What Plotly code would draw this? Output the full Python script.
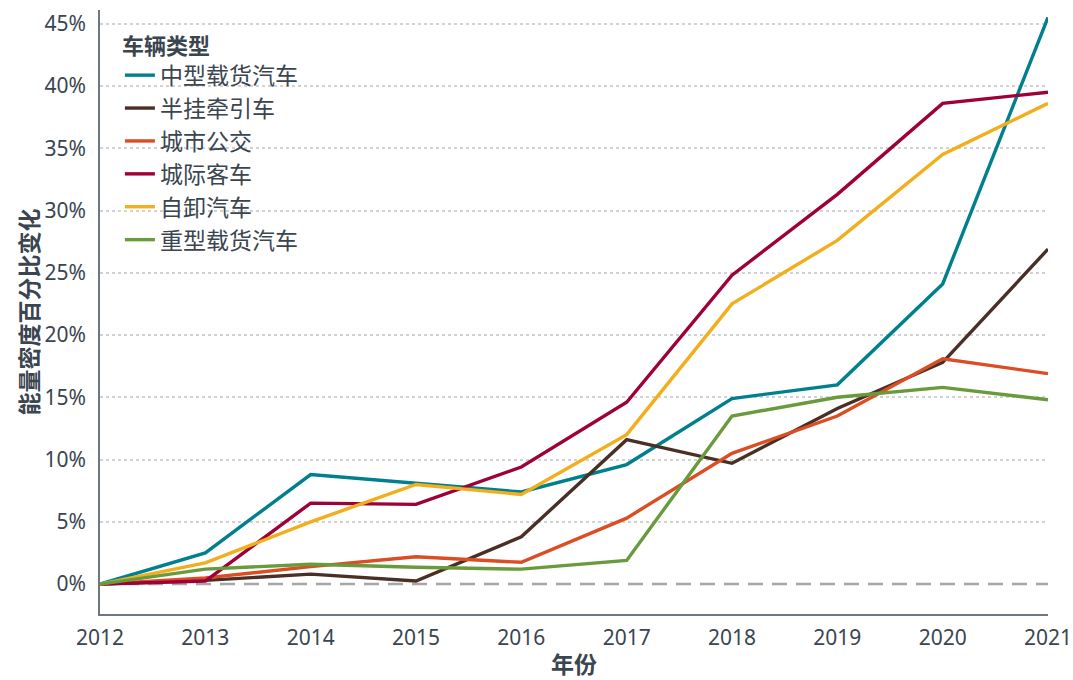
import plotly.graph_objects as go

years = [2012, 2013, 2014, 2015, 2016, 2017, 2018, 2019, 2020, 2021]

medium_truck = [0, 2.5, 8.8, 8.1, 7.4, 9.6, 14.9, 16.0, 24.1, 45.5]
tractor = [0, 0.3, 0.8, 0.25, 3.8, 11.6, 9.7, 14.1, 17.8, 26.9]
city_bus = [0, 0.5, 1.4, 2.2, 1.75, 5.3, 10.5, 13.5, 18.1, 16.9]
coach = [0, 0.25, 6.5, 6.4, 9.4, 14.6, 24.8, 31.3, 38.6, 39.5]
dump_truck = [0, 1.7, 5.0, 8.0, 7.2, 12.0, 22.5, 27.6, 34.5, 38.6]
heavy_truck = [0, 1.2, 1.6, 1.35, 1.2, 1.9, 13.5, 15.0, 15.8, 14.8]

names = ['中型载货汽车', '半挂牵引车', '城市公交', '城际客车', '自卸汽车', '重型载货汽车']
series = [medium_truck, tractor, city_bus, coach, dump_truck, heavy_truck]
colors = ['#00808F', '#4A2F24', '#DB4D22', '#9E0038', '#F2AE1D', '#699A3B']

y_ticks = [0, 5, 10, 15, 20, 25, 30, 35, 40, 45]
y_tick_labels = [f'{t}%' for t in y_ticks]

text_color = '#3A4550'
font_family = 'Noto Sans, Noto Sans CJK SC, sans-serif'

fig = go.Figure()

# zero baseline
fig.add_trace(go.Scatter(
    x=[years[0], years[-1]], y=[0, 0],
    mode='lines', showlegend=False, hoverinfo='skip',
    line={'color': '#A6A6A6', 'width': 2.5, 'dash': '15px,9px'},
))

for i, (name, vals, color) in enumerate(zip(names, series, colors)):
    fig.add_trace(go.Scatter(
        x=years, y=vals, name=name, mode='lines',
        legendgroup=f'g{i}',
        line={'color': color, 'width': 3.4},
    ))

fig.update_layout(
    width=1073, height=680,
    paper_bgcolor='white', plot_bgcolor='white',
    margin={'l': 100, 'r': 25, 't': 10, 'b': 66, 'autoexpand': False},
    font={'family': font_family, 'color': text_color},
    legend={
        'x': 0.021, 'y': 0.975, 'xanchor': 'left', 'yanchor': 'top',
        'title': {'text': '<b>车辆类型</b>', 'font': {'size': 22, 'color': text_color}},
        'font': {'size': 23, 'color': text_color},
        'tracegroupgap': 0,
        'bgcolor': 'rgba(0,0,0,0)',
    },
    xaxis={
        'range': [2012, 2021],
        'tickvals': years,
        'ticktext': [str(y) for y in years],
        'tickfont': {'size': 21, 'color': text_color},
        'showgrid': False, 'zeroline': False,
        'showline': True, 'linecolor': '#6E7780', 'linewidth': 1.5,
        'ticks': 'outside', 'ticklen': 4, 'tickcolor': 'rgba(0,0,0,0)',
        'automargin': False,
        'title': {'text': '<b>年份</b>', 'font': {'size': 23, 'color': text_color}, 'standoff': 8},
        'fixedrange': True,
    },
    yaxis={
        'range': [-2.4, 46.1],
        'tickvals': y_ticks,
        'ticktext': y_tick_labels,
        'tickfont': {'size': 21, 'color': text_color},
        'showgrid': True, 'gridcolor': '#D2D2D2', 'griddash': 'dot', 'gridwidth': 1.5,
        # white zeroline hides the dotted grid at 0 under the dashed baseline
        'zeroline': True, 'zerolinecolor': 'white', 'zerolinewidth': 3,
        'showline': True, 'linecolor': '#6E7780', 'linewidth': 1.5,
        'ticks': 'outside', 'ticklen': 8, 'tickcolor': 'rgba(0,0,0,0)',
        'automargin': False,
        'title': {'text': '<b>能量密度百分比变化</b>', 'font': {'size': 23, 'color': text_color}, 'standoff': 0},
        'fixedrange': True,
    },
)

# page body has an 8px default margin; drop it so the figure fills the window
fig.write_html('out.html', config={'displayModeBar': False},
               post_script="document.body.style.margin='0';")
